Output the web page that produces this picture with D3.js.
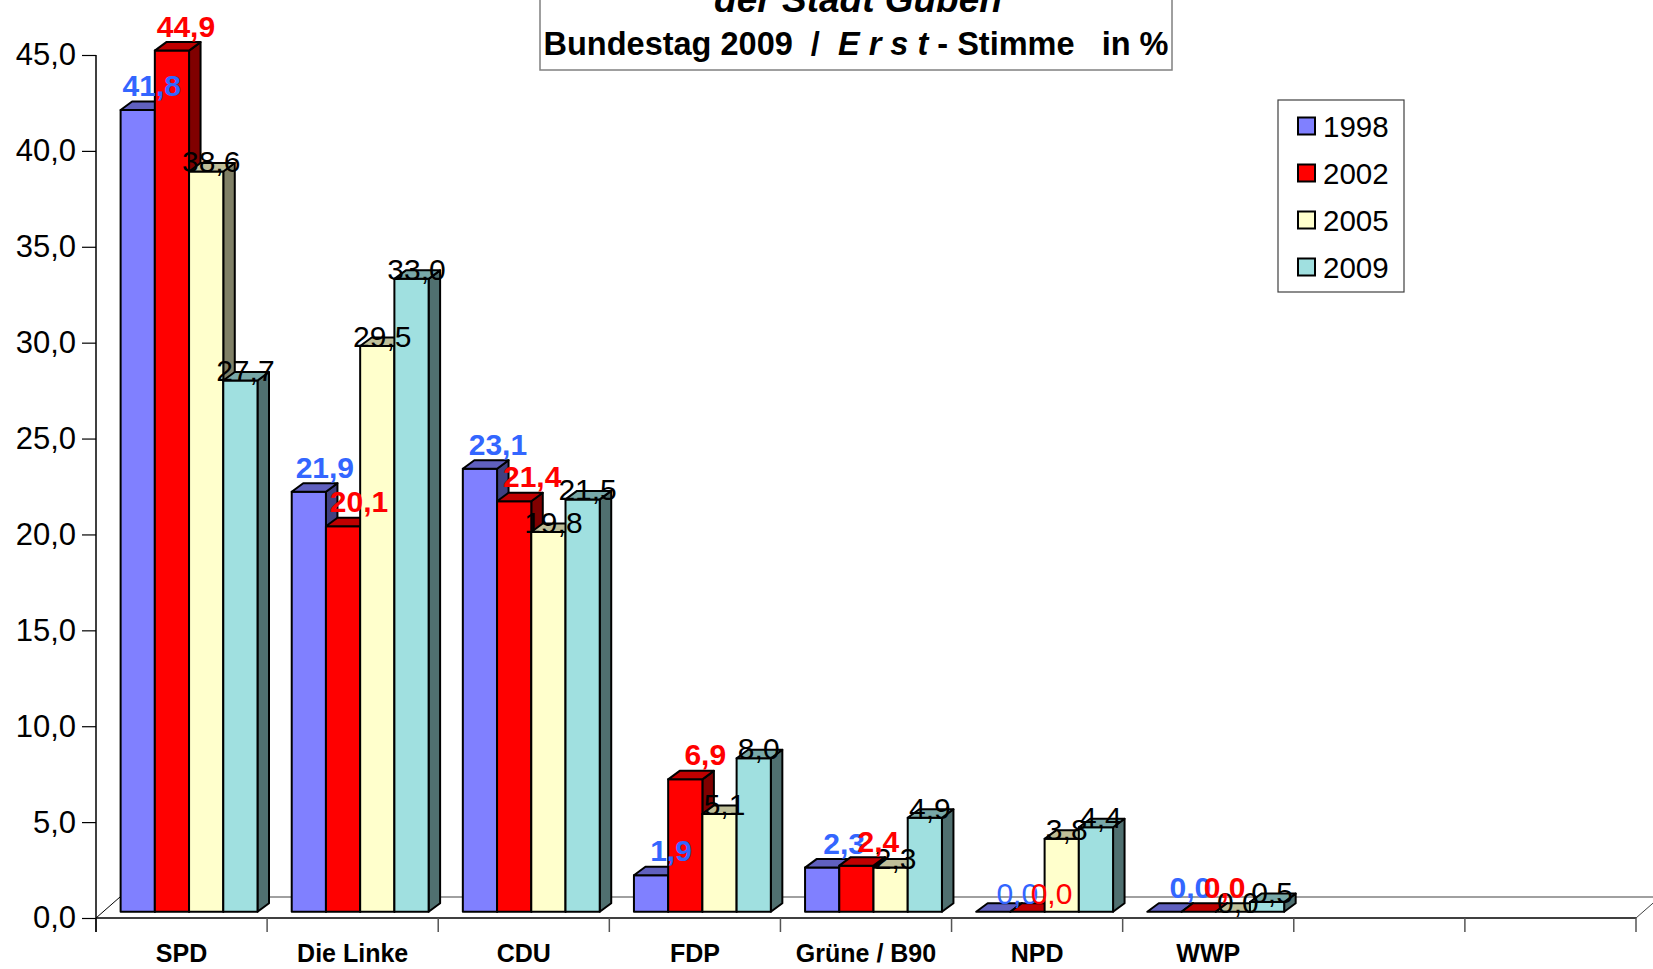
<!DOCTYPE html>
<html>
<head>
<meta charset="utf-8">
<script src="https://cdn.jsdelivr.net/npm/d3@7"></script>
<style>
  body { margin: 0; background: #fff; }
  text { font-family: "Liberation Sans", Arial, sans-serif; }
</style>
</head>
<body>
<div id="chart"></div>
<script>
// Bundestag 2009, Erststimme, Guben - 3D column chart

var categories = ["SPD", "Die Linke", "CDU", "FDP", "Grüne / B90", "NPD", "WWP"];
var years = ["1998", "2002", "2005", "2009"];
var v1998 = [41.8, 21.9, 23.1, 1.9, 2.3, 0.0, 0.0];
var v2002 = [44.9, 20.1, 21.4, 6.9, 2.4, 0.0, 0.0];
var v2005 = [38.6, 29.5, 19.8, 5.1, 2.3, 3.8, 0.0];
var v2009 = [27.7, 33.0, 21.5, 8.0, 4.9, 4.4, 0.5];
var yTicks = [0, 5, 10, 15, 20, 25, 30, 35, 40, 45];
var plainLabelCats = ["NPD"];   // colored labels that are not bold there

var series = [v1998, v2002, v2005, v2009];

var svgWidth = 1653,
    svgHeight = 969;

var svg = d3.select("#chart")
    .append("svg")
        .attr("width", svgWidth)
        .attr("height", svgHeight);

var de = d3.formatLocale({decimal: ",", thousands: ".", grouping: [3], currency: ["", " €"]});
var fmt = de.format(".1f");

// colors: front, top, side
var colors = [
    {front: "#8080ff", top: "#6060bf", side: "#404080", label: "#3366ff"},
    {front: "#ff0000", top: "#bf0000", side: "#800000", label: "#ff0000"},
    {front: "#ffffcc", top: "#bfbf99", side: "#808066", label: "#000000"},
    {front: "#a0e0e0", top: "#78a8a8", side: "#507070", label: "#000000"}
];

var axisX = 96, axisRight = 1636,
    floorY = 918, topY = 55;
var floorDx = 24, floorDy = 21;     // depth of the floor
var barDx = 11.5, barDy = 8.5;      // depth of a bar
var barLift = 6.3, barShift = 7.5;  // bars sit in the middle of the floor depth

// 9 slots, the last two stay empty
var slots = categories.concat(["", " "]);

var x = d3.scaleBand()
    .domain(slots)
    .range([axisX, axisRight]);

var y = d3.scaleLinear()
    .domain([0, 45])
    .range([floorY, topY]);

var bw = x.bandwidth() * 0.2;
var groupOffset = (x.bandwidth() - 4 * bw) / 2 + barShift;

// Floor
var floor = svg.append("g");
floor.append("polygon")
    .attr("points", [[axisX, floorY], [axisX + floorDx, floorY - floorDy],
                     [svgWidth + 40, floorY - floorDy], [axisRight + 40, floorY]].join(" "))
    .attr("fill", "#fff");
floor.append("line")
    .attr("x1", axisX + floorDx).attr("y1", floorY - floorDy)
    .attr("x2", svgWidth).attr("y2", floorY - floorDy)
    .attr("stroke", "#808080").attr("stroke-width", 1.5);
floor.append("line")
    .attr("x1", axisX).attr("y1", floorY)
    .attr("x2", axisX + floorDx).attr("y2", floorY - floorDy)
    .attr("stroke", "#000").attr("stroke-width", 1);
floor.append("line")
    .attr("x1", axisRight).attr("y1", floorY)
    .attr("x2", axisRight + floorDx).attr("y2", floorY - floorDy)
    .attr("stroke", "#404040").attr("stroke-width", 1);

// Front edge and boundary ticks
svg.append("line")
    .attr("x1", axisX).attr("y1", floorY)
    .attr("x2", axisRight).attr("y2", floorY)
    .attr("stroke", "#000").attr("stroke-width", 1.5);

svg.append("g").selectAll("line")
    .data(slots.concat(["end"]))
    .enter().append("line")
        .attr("x1", (d, i) => axisX + i * x.step())
        .attr("x2", (d, i) => axisX + i * x.step())
        .attr("y1", floorY)
        .attr("y2", floorY + 14)
        .attr("stroke", "#555")
        .attr("stroke-width", 1.5);

// Category labels
var xAxisGroup = svg.append("g")
    .attr("transform", `translate(0, ${floorY})`)
    .call(d3.axisBottom(x).tickSize(0).tickPadding(26));
xAxisGroup.select(".domain").remove();
xAxisGroup.selectAll("text")
    .attr("font-family", "Liberation Sans, Arial, sans-serif")
    .attr("font-size", "25px")
    .attr("font-weight", "bold")
    .attr("fill", "#000");

// Y axis
var yAxisGroup = svg.append("g")
    .attr("transform", `translate(${axisX}, 0)`)
    .call(d3.axisLeft(y).tickValues(yTicks).tickFormat(fmt).tickSize(14).tickSizeOuter(0).tickPadding(6));
yAxisGroup.select(".domain").attr("stroke", "#000").attr("stroke-width", 1.5)
    .attr("d", `M0,${topY}V${floorY + 14}`);
yAxisGroup.selectAll(".tick line").attr("stroke", "#000").attr("stroke-width", 1.2);
yAxisGroup.selectAll("text")
    .attr("font-family", "Liberation Sans, Arial, sans-serif")
    .attr("font-size", "31px")
    .attr("fill", "#000");

// Bars
var bars = svg.append("g")
    .attr("stroke", "#000")
    .attr("stroke-width", 2)
    .attr("stroke-linejoin", "round");

var barData = [];
categories.forEach((cat, i) => {
    series.forEach((vals, j) => {
        barData.push({cat: cat, ci: i, si: j, value: vals[i]});
    });
});

barData.forEach(d => {
    var x0 = x(d.cat) + groupOffset + d.si * bw;
    var yb = y(0) - barLift;
    var yt = y(d.value) - barLift;
    var c = colors[d.si];
    d.x0 = x0; d.yt = yt;
    var g = bars.append("g");
    g.append("polygon")
        .attr("points", [[x0 + bw, yt], [x0 + bw + barDx, yt - barDy],
                         [x0 + bw + barDx, yb - barDy], [x0 + bw, yb]].join(" "))
        .attr("fill", c.side);
    g.append("rect")
        .attr("x", x0).attr("y", yt)
        .attr("width", bw).attr("height", yb - yt)
        .attr("fill", c.front);
    g.append("polygon")
        .attr("points", [[x0, yt], [x0 + barDx, yt - barDy],
                         [x0 + bw + barDx, yt - barDy], [x0 + bw, yt]].join(" "))
        .attr("fill", c.top);
});

// Data labels: black ones first, then blue, then red on top
var labels = svg.append("g")
    .attr("text-anchor", "middle")
    .attr("font-size", "30px");

[2, 3, 0, 1].forEach(j => {
    barData.filter(d => d.si === j).forEach(d => {
        var cx = d.x0 + bw / 2;
        var t = labels.append("text").text(fmt(d.value)).attr("fill", colors[j].label);
        if (j >= 2) {
            t.attr("x", cx + 5).attr("y", d.yt + 1);
        } else {
            var plain = plainLabelCats.indexOf(d.cat) >= 0;
            t.attr("x", cx + 14 + 2 * d.ci)
             .attr("y", d.yt - (plain ? 8 : 14))
             .attr("font-weight", plain ? "normal" : "bold");
        }
    });
});

// Legend
var legend = svg.append("g");
legend.append("rect")
    .attr("x", 1278).attr("y", 100)
    .attr("width", 126).attr("height", 192)
    .attr("fill", "#fff")
    .attr("stroke", "#404040").attr("stroke-width", 1.2);
years.forEach((yr, j) => {
    var cy = 126 + j * 47;
    legend.append("rect")
        .attr("x", 1298).attr("y", cy - 8.5)
        .attr("width", 17).attr("height", 17)
        .attr("fill", colors[j].front)
        .attr("stroke", "#000").attr("stroke-width", 2);
    legend.append("text")
        .attr("x", 1323).attr("y", cy + 10.5)
        .attr("font-size", "29.5px")
        .text(yr);
});

// Title box
var title = svg.append("g");
title.append("rect")
    .attr("x", 540).attr("y", -20)
    .attr("width", 632).attr("height", 90)
    .attr("fill", "#fff")
    .attr("stroke", "#808080").attr("stroke-width", 1.5);
title.append("text")
    .attr("x", 858).attr("y", 12)
    .attr("text-anchor", "middle")
    .attr("font-size", "37px")
    .attr("font-weight", "bold")
    .attr("font-style", "italic")
    .text("der Stadt Guben");
var line2 = title.append("text")
    .attr("x", 856).attr("y", 55)
    .attr("text-anchor", "middle")
    .attr("font-size", "32.5px")
    .attr("font-weight", "bold")
    .style("white-space", "pre");
line2.append("tspan").text("Bundestag 2009  /  ");
line2.append("tspan").attr("font-style", "italic").text("E r s t");
line2.append("tspan").text(" - Stimme   in %");
</script>
</body>
</html>
